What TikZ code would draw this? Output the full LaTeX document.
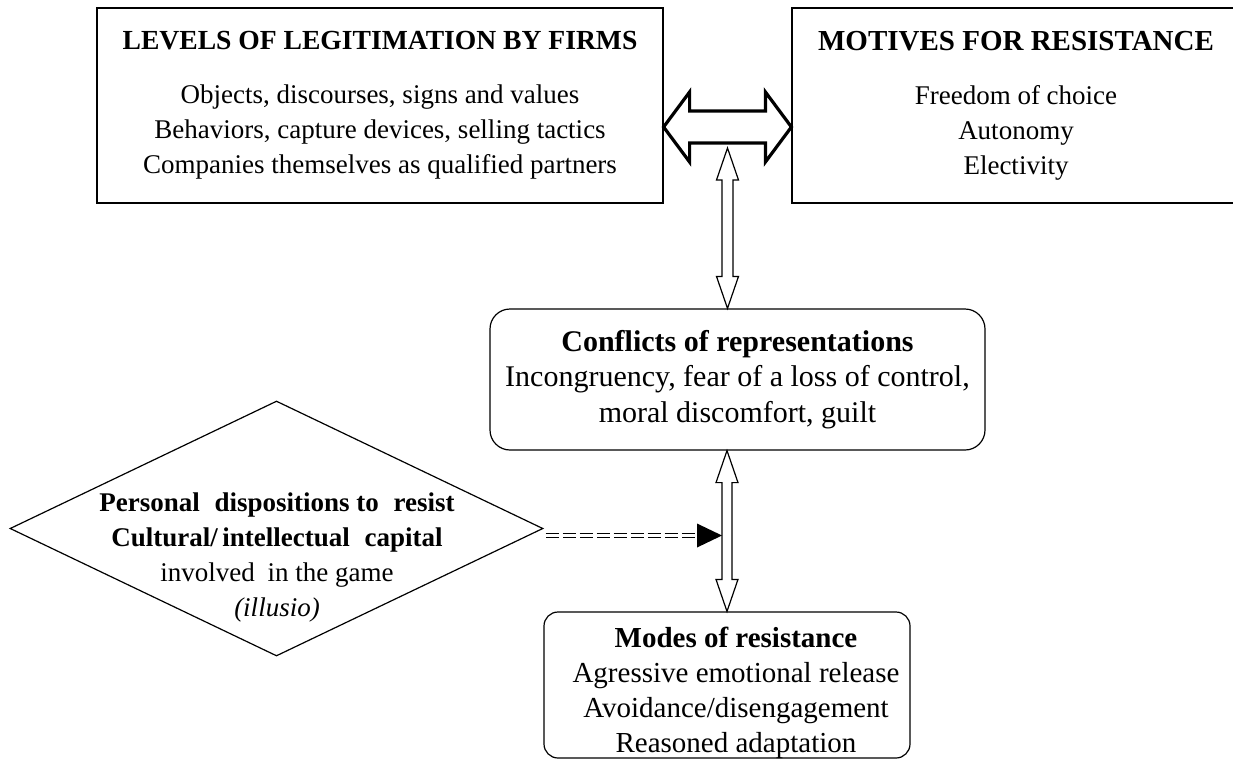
\documentclass[tikz,border=0pt]{standalone}
\usepackage{fontspec}
\setmainfont{Liberation Serif}
\usetikzlibrary{shapes.geometric,calc}

\tikzset{
  box/.style={draw, line width=0.6pt, align=center, inner sep=0pt,
    font=\fontsize{13.5}{17.5}\selectfont},
  roundbox/.style={box, rounded corners=10pt},
  dispbox/.style={draw, line width=0.6pt, diamond, inner sep=0pt,
    minimum width=266.5pt, minimum height=127.5pt},
  thinarrow/.style={draw, fill=white, line width=0.6pt, line join=miter},
  fatarrow/.style={draw, fill=white, line width=1.6pt, line join=miter},
  dashlink/.style={double, double distance=1.2pt, line width=0.8pt,
    dash pattern=on 6.5pt off 2pt}
}

\begin{document}
\begin{tikzpicture}[x=0.5pt, y=-0.5pt]
\useasboundingbox (0,0) rectangle (1233,761);

% boxes
\node (levels) [box, minimum width=283pt, minimum height=97.5pt] at (380,105.5)
  {\textbf{\fontsize{13.8}{17.5}\selectfont LEVELS OF LEGITIMATION BY FIRMS}\\[9.5pt]
   Objects, discourses, signs and values\\
   Behaviors, capture devices, selling tactics\\
   Companies themselves as qualified partners};
\node (motives) [box, minimum width=224pt, minimum height=97.5pt] at (1016,105.5)
  {\textbf{\fontsize{14.5}{17.5}\selectfont MOTIVES FOR RESISTANCE}\\[9.5pt]
   Freedom of choice\\
   Autonomy\\
   Electivity};
\node (conflicts) [roundbox, minimum width=247.5pt, minimum height=70.5pt,
  font=\fontsize{15}{17.75}\selectfont] at (737.5,379.5)
  {\textbf{Conflicts of representations}\\
   Incongruency, fear of a loss of control,\\
   moral discomfort, guilt};
\node (modes) [roundbox, rounded corners=7pt, minimum width=183pt, minimum height=73pt] at (727,685) {};
\node (modestext) [align=center, font=\fontsize{14.5}{17.5}\selectfont] at (736,693)
  {\textbf{Modes of resistance}\\
   Agressive emotional release\\
   Avoidance/disengagement\\
   Reasoned adaptation};
\node (disp) [dispbox] at (276.5,528.5) {};
\node (disptext) [align=center, font=\fontsize{13.5}{17.5}\selectfont] at (277,557)
  {\textbf{Personal\hspace{4pt} dispositions to\hspace{4pt} resist}\\
   \textbf{Cultural/\,intellectual\hspace{4pt} capital}\\
   involved\hspace{3pt} in the game\\
   \textit{(illusio)}};

% fat two-way arrow between the top boxes
\coordinate (hl) at ($(levels.east)+(0,21.5)$);
\coordinate (hr) at ($(motives.west)+(0,21.5)$);
\draw[fatarrow] (hl) -- ++(26,-35) -- ++(0,19) -- ($(hr)+(-26,-16)$) -- ++(0,-19)
  -- (hr) -- ++(-26,35) -- ++(0,-19) -- ($(hl)+(26,16)$) -- ++(0,19) -- cycle;

% thin two-way arrows
\coordinate (vt) at ($(hl)!0.5!(hr)+(0,21)$);
\coordinate (vb) at (vt |- conflicts.north);
\draw[thinarrow] (vt) -- ++(11,32) -- ++(-5.5,0) -- ($(vb)+(5.5,-32)$) -- ++(5.5,0)
  -- (vb) -- ++(-11,-32) -- ++(5.5,0) -- ($(vt)+(-5.5,32)$) -- ++(-5.5,0) -- cycle;

\coordinate (wt) at (conflicts.south -| modes.north);
\draw[thinarrow] (wt) -- ++(11,32) -- ++(-6,0) -- ($(modes.north)+(5,-32)$) -- ++(6,0)
  -- (modes.north) -- ++(-11,-32) -- ++(6,0) -- ($(wt)+(-5,32)$) -- ++(-6,0) -- cycle;

% dashed link from the dispositions
\coordinate (dl) at ($(disp.east)+(2,7)$);
\coordinate (dtip) at ($(dl -| modes.north)+(-5,0)$);
\draw[dashlink] (dl) -- ($(dtip)+(-25,0)$);
\fill (dtip) -- ++(-25,-12) -- ++(0,24) -- cycle;
\end{tikzpicture}
\end{document}
